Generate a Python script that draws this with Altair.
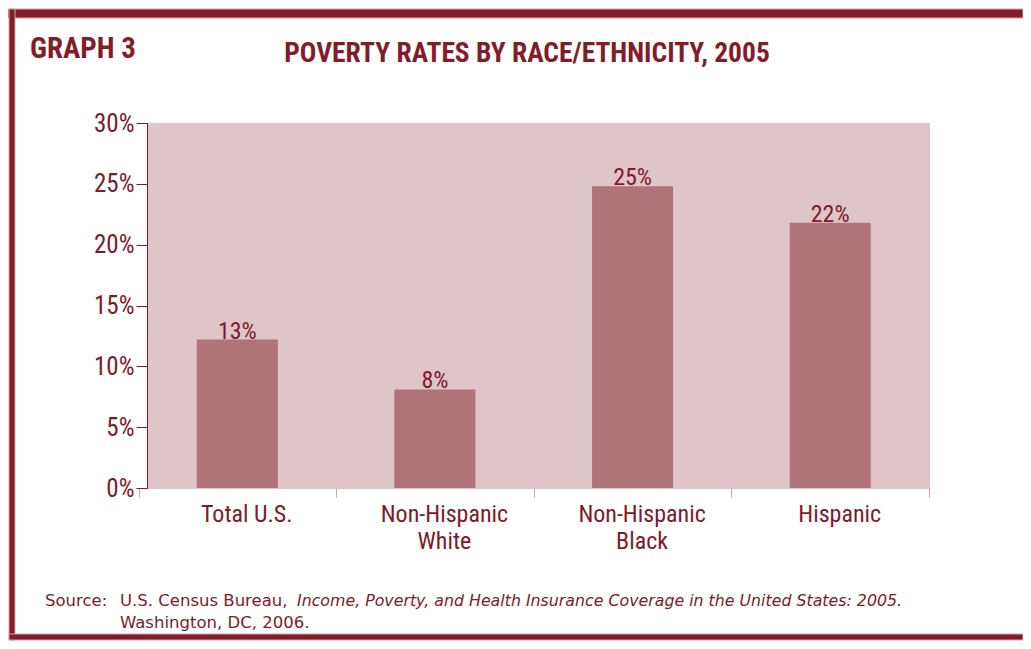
import altair as alt
import pandas as pd

# ---- data ----
categories = ["Total U.S.", "Non-Hispanic\nWhite", "Non-Hispanic\nBlack", "Hispanic"]
rates = [12.2, 8.1, 24.8, 21.8]
rate_labels = ["13%", "8%", "25%", "22%"]
y_ticks = [0, 5, 10, 15, 20, 25, 30]

graph_label = "GRAPH 3"
title_text = "POVERTY RATES BY RACE/ETHNICITY, 2005"
source_lead = "Source:"
source_plain = "U.S. Census Bureau,"
source_italic = "Income, Poverty, and Health Insurance Coverage in the United States: 2005"
source_end = "."
source_line2 = "Washington, DC, 2006."

# ---- style ----
DARK = "#7D1A2B"
FRAME = "#821C2B"
FRAME_EDGE = "#D6A3AB"
BG = "#DFC5C9"
BAR = "#B07379"
TICK_LIGHT = "#C9A9AE"
COND = "Liberation Sans Narrow, Roboto Condensed, DejaVu Sans Condensed, sans-serif"
SRC_FONT = "DejaVu Sans, sans-serif"

W, H = 782, 365
PAD_L, PAD_T = 139, 115
SVG_W, SVG_H = 1015, 633
PAD_R = SVG_W - PAD_L - W
PAD_B = SVG_H - PAD_T - H

df = pd.DataFrame({"cat": categories, "rate": rates, "label": rate_labels})
one = pd.DataFrame({"k": [0]})

x_enc = alt.X(
    "cat:N",
    sort=categories,
    scale=alt.Scale(paddingInner=0, paddingOuter=0, range=[-8.5, W]),
    axis=alt.Axis(
        title=None,
        labelAngle=0,
        labelExpr="split(datum.label, '\\n')",
        tickBand="extent",
        domain=False,
        tickColor=TICK_LIGHT,
        tickSize=9,
        labelPadding=5,
        labelOffset=9,
        labelFont=COND,
        labelFontSize=24,
        labelColor=DARK,
        labelLineHeight=27,
    ),
)
y_enc = alt.Y(
    "rate:Q",
    scale=alt.Scale(domain=[0, 30], nice=False),
    axis=alt.Axis(
        title=None,
        values=y_ticks,
        labelExpr="datum.value + '%'",
        grid=False,
        domainColor=DARK,
        tickColor=DARK,
        tickSize=11,
        labelPadding=2,
        labelFont=COND,
        labelFontSize=25,
        labelColor=DARK,
    ),
)

bars = alt.Chart(df).mark_bar(color=BAR, width=alt.RelativeBandSize(0.41)).encode(
    x=x_enc, y=y_enc
)
bar_text = alt.Chart(df).mark_text(
    baseline="alphabetic", dy=-1, font=COND, fontSize=24, color=DARK
).encode(x=alt.X("cat:N", sort=categories), y="rate:Q", text="label:N")

# frame
frame_top = alt.Chart(one).mark_rect(fill=FRAME, stroke=FRAME_EDGE, strokeWidth=1).encode(
    x=alt.value(-PAD_L), x2=alt.value(SVG_W - PAD_L),
    y=alt.value(-PAD_T + 1), y2=alt.value(-PAD_T + 10),
)
frame_left = alt.Chart(one).mark_rect(fill=FRAME, stroke=FRAME_EDGE, strokeWidth=1).encode(
    x=alt.value(-PAD_L + 1), x2=alt.value(-PAD_L + 7),
    y=alt.value(-PAD_T + 1), y2=alt.value(SVG_H - PAD_T - 1),
)
frame_bottom = alt.Chart(one).mark_rect(fill=FRAME, stroke=FRAME_EDGE, strokeWidth=1).encode(
    x=alt.value(-PAD_L + 1), x2=alt.value(SVG_W - PAD_L),
    y=alt.value(SVG_H - PAD_T - 7), y2=alt.value(SVG_H - PAD_T - 1),
)

graph_txt = alt.Chart(one).mark_text(
    align="left", baseline="alphabetic", font=COND, fontWeight="bold", fontSize=29, color=FRAME
).encode(x=alt.value(-117), y=alt.value(-65), text=alt.value(graph_label))

title_txt = alt.Chart(one).mark_text(
    align="center", baseline="alphabetic", font=COND, fontWeight="bold", fontSize=27.5, color=FRAME
).encode(x=alt.value(380), y=alt.value(-61), text=alt.value(title_text))

src_kw = dict(align="left", baseline="alphabetic", font=SRC_FONT, color=DARK)
src1 = alt.Chart(one).mark_text(fontSize=16.5, **src_kw).encode(
    x=alt.value(45 - 147), y=alt.value(606 - 123), text=alt.value(source_lead))
src2 = alt.Chart(one).mark_text(fontSize=16.5, **src_kw).encode(
    x=alt.value(120 - 147), y=alt.value(606 - 123), text=alt.value(source_plain))
src3 = alt.Chart(one).mark_text(fontStyle="italic", fontSize=15.8, **src_kw).encode(
    x=alt.value(297 - 147), y=alt.value(606 - 123), text=alt.value(source_italic + source_end))
src4 = alt.Chart(one).mark_text(fontSize=16.5, **src_kw).encode(
    x=alt.value(120 - 147), y=alt.value(628 - 123), text=alt.value(source_line2))

chart = alt.layer(
    frame_top, frame_left, frame_bottom,
    bars, bar_text,
    graph_txt, title_txt, src1, src2, src3, src4,
).properties(
    width=W, height=H,
    autosize=alt.AutoSizeParams(type="none"),
    padding={"left": PAD_L, "top": PAD_T, "right": PAD_R, "bottom": PAD_B},
    background="white",
).configure_view(fill=BG, stroke=BG)

chart.save("out.html", embed_options={"renderer": "svg", "actions": False})
